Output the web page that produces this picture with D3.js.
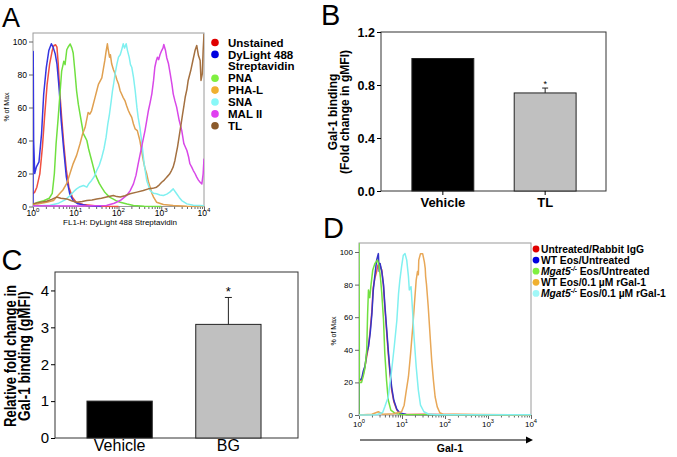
<!DOCTYPE html>
<html lang="en">
<head>
<meta charset="UTF-8" />
<title>Gal-1 binding</title>
<style>
  body { margin: 0; background: #fff; }
  svg text { font-family: 'Liberation Sans', Arial, sans-serif; fill: #000; }
</style>
<script src="https://d3js.org/d3.v7.min.js"></script>
</head>
<body>
<div class="d3Chart"></div>
<script>
// ---------- data, panel A (x = log10 FL1-H, y = % of max) ----------
var unstainedA = [[0,7.7],[0.04,8.7],[0.09,11.7],[0.16,19.8],[0.22,36],[0.27,54],[0.33,74],[0.39,86.5],[0.45,94.5],[0.49,97.6],[0.53,98],[0.56,96.6],[0.59,86.5],[0.62,72],[0.67,54],[0.72,38],[0.78,22],[0.84,11.7],[0.92,5.7],[1.01,2.6],[1.17,1.2],[1.56,0.2],[2,0]]
var dylightA = [[0,0],[0.005,94],[0.015,40],[0.04,20],[0.08,24],[0.14,27],[0.2,44],[0.25,68],[0.31,84],[0.37,94.5],[0.43,98.6],[0.47,96.6],[0.52,92.5],[0.56,86.5],[0.61,72],[0.66,52],[0.72,34],[0.78,17.8],[0.86,7.7],[0.94,3.6],[1.05,1.6],[1.25,0.6],[1.6,0]]
var pnaA = [[0,1],[0.1,2.5],[0.25,3.5],[0.38,5],[0.45,8],[0.5,20],[0.54,38],[0.59,54],[0.63,68],[0.67,82],[0.72,88],[0.75,86],[0.79,95],[0.83,97],[0.87,98.5],[0.91,96],[0.94,93],[0.98,82],[1.02,70],[1.06,62],[1.1,56],[1.14,50],[1.18,44],[1.22,42],[1.26,40],[1.3,35],[1.33,32],[1.37,28],[1.41,24],[1.45,20],[1.49,17.5],[1.55,14],[1.61,11.5],[1.67,9],[1.72,7.5],[1.8,5.5],[1.88,4.5],[1.96,3.3],[2.04,2.6],[2.2,1.5],[2.35,0.6],[2.6,0.2],[3,0]]
var phalA = [[0,1.5],[0.1,1.5],[0.32,2.6],[0.48,3.6],[0.63,8],[0.7,10],[0.79,14],[0.94,26],[1.02,31],[1.1,38],[1.16,44],[1.22,48],[1.29,57],[1.33,56],[1.37,58],[1.41,62],[1.45,66],[1.49,70],[1.53,74],[1.57,76],[1.61,78],[1.65,84],[1.68,88.5],[1.71,94],[1.74,98.6],[1.76,95],[1.79,90.5],[1.81,92],[1.84,86.5],[1.88,83],[1.92,80.4],[1.96,77],[2,74.3],[2.04,70],[2.07,68.3],[2.11,66],[2.15,64.2],[2.19,61],[2.23,58.2],[2.27,56],[2.31,54],[2.35,50],[2.39,47],[2.44,46],[2.5,40],[2.54,34],[2.58,27.9],[2.62,23],[2.66,19.8],[2.7,15],[2.74,11.7],[2.78,8],[2.82,5.7],[2.89,2.6],[3.05,1.2],[3.28,0.6],[3.6,0.2],[4,0]]
var snaA = [[0,0.3],[0.4,0.8],[0.6,2],[0.75,4],[0.87,6.7],[0.95,9],[1.02,10.7],[1.1,12],[1.18,12.7],[1.26,11.7],[1.31,14],[1.37,15.8],[1.43,18],[1.49,21.8],[1.55,25],[1.61,29.9],[1.66,35],[1.71,42],[1.75,50],[1.79,56.2],[1.83,64],[1.86,70.3],[1.89,75],[1.92,80.4],[1.96,86],[2,90.5],[2.04,92],[2.07,94.5],[2.11,98.6],[2.14,96],[2.18,98.6],[2.21,94.5],[2.25,90.5],[2.28,86],[2.31,84.4],[2.35,78.4],[2.39,70.3],[2.43,60.2],[2.46,54],[2.5,48],[2.54,40],[2.6,25.9],[2.66,15.8],[2.74,9.7],[2.82,8],[2.89,7.7],[2.97,7],[3.05,6.7],[3.13,7.5],[3.2,8.7],[3.28,10.7],[3.36,7.7],[3.42,5.5],[3.48,3.6],[3.6,1.6],[3.75,0.8],[3.9,0.6],[4,0.5]]
var mal2A = [[0,0.5],[1,0.3],[1.72,0.6],[1.9,2],[2.04,3.6],[2.19,6.7],[2.27,9.5],[2.35,13.7],[2.41,19],[2.46,25.9],[2.54,36],[2.58,41],[2.62,46],[2.66,52],[2.7,58.2],[2.74,63],[2.78,68.3],[2.82,76.4],[2.85,84.4],[2.88,88],[2.91,90.5],[2.94,89],[2.97,92],[3.01,94.5],[3.04,96],[3.06,98.2],[3.1,94.5],[3.13,90],[3.17,86.5],[3.21,80.4],[3.25,74],[3.28,68.3],[3.32,64],[3.36,60.2],[3.42,52.1],[3.48,46],[3.53,38],[3.6,33.9],[3.64,30],[3.67,25.9],[3.71,24],[3.75,21.8],[3.79,20],[3.83,17.8],[3.87,16],[3.91,14.7],[3.95,13.7],[3.98,19.8],[4,29]]
var tlA = [[0,1.6],[0.15,2.5],[0.32,3.2],[0.45,4.5],[0.55,5.7],[0.65,5],[0.79,4.6],[0.9,3.5],[1.02,2.6],[1.15,3],[1.26,3.6],[1.38,4],[1.49,4.6],[1.6,5],[1.72,5.7],[1.88,6.7],[1.96,6],[2.04,5.7],[2.15,6.5],[2.27,7.7],[2.43,8.7],[2.58,9.7],[2.7,10.7],[2.8,11],[2.89,11.7],[2.95,13],[3.01,14.7],[3.07,16],[3.13,17.8],[3.19,19.5],[3.24,21.8],[3.28,24],[3.32,27.9],[3.35,32],[3.38,36],[3.41,41],[3.44,46],[3.47,51],[3.5,56.2],[3.53,61],[3.56,66.2],[3.6,71],[3.63,76.4],[3.69,82.4],[3.74,88.5],[3.79,94.5],[3.83,97.6],[3.87,91.5],[3.91,88.5],[3.93,76.4],[3.96,80.4],[3.98,94.5],[4,104.6]]
var legendA = [['Unstained'], ['DyLight 488', 'Streptavidin'], ['PNA'], ['PHA-L'], ['SNA'], ['MAL II'], ['TL']]
var dotColorsA = ['#e00000', '#0000e0', '#80f040', '#f0b030', '#88f8f8', '#e040f0', '#8b5a2b']
var lineColorsA = ['#f05040', '#3535e0', '#70e040', '#e0a050', '#80f0f0', '#d848e8', '#a47040']

// ---------- data, panel B ----------
var catsB = ['Vehicle', 'TL']
var valuesB = [1.0, 0.74]
var errB = [0, 0.037]
var ticksB = [0, 0.4, 0.8, 1.2]

// ---------- data, panel C ----------
var catsC = ['Vehicle', 'BG']
var valuesC = [1.0, 3.08]
var errC = [0, 0.73]
var ticksC = [0, 1, 2, 3, 4]

// ---------- data, panel D (x = log10 Gal-1, y = % of max) ----------
var untreatedD = [[0,0],[0.005,21],[0.06,21.5],[0.1,25],[0.14,30],[0.18,36],[0.22,42],[0.26,52],[0.3,64],[0.33,78],[0.37,84],[0.41,88],[0.44,92],[0.48,93],[0.51,90],[0.53,89],[0.57,78.7],[0.6,66.4],[0.64,52],[0.68,37.8],[0.72,25.6],[0.76,15.3],[0.81,8.2],[0.88,3],[0.95,1],[1.1,0.3],[1.5,0.5],[2,0.3],[4,0]]
var wtUntreatedD = [[0,0],[0.005,22],[0.06,22],[0.1,27],[0.14,30],[0.18,38],[0.22,42],[0.26,50],[0.3,62],[0.33,76],[0.37,86],[0.41,95],[0.45,99],[0.47,88],[0.49,93],[0.53,88],[0.57,80],[0.6,68],[0.64,54],[0.68,40],[0.72,27],[0.76,17],[0.81,9],[0.88,3.5],[0.95,1.2],[1.1,0.3],[4,0]]
var mgatUntreatedD = [[0,0],[0,105],[0.01,20],[0.06,20],[0.1,24],[0.14,29],[0.18,40],[0.2,62],[0.22,76.7],[0.25,72],[0.28,80],[0.32,89],[0.37,93],[0.43,95],[0.47,91],[0.5,84],[0.53,74.6],[0.57,58.3],[0.6,37.8],[0.64,21.5],[0.68,9.2],[0.74,3],[0.84,1],[1,0.3],[4,0]]
var wtRgalD = [[0,0],[0.3,0.5],[0.45,2],[0.55,0.5],[0.8,0.8],[0.99,2],[1.05,6],[1.09,13.3],[1.15,23.5],[1.2,37.8],[1.25,54],[1.29,68.5],[1.33,82.8],[1.36,88],[1.38,86],[1.39,95],[1.43,99],[1.48,99],[1.52,94],[1.54,90],[1.55,84.9],[1.57,80],[1.61,66.4],[1.65,50],[1.69,33.7],[1.73,21.5],[1.77,11.2],[1.82,5],[1.88,1.4],[1.96,0.3],[2.2,0.5],[4,0]]
var mgatRgalD = [[0,0],[0.4,0.2],[0.55,1.5],[0.6,5],[0.68,11],[0.76,27.6],[0.82,42],[0.88,58],[0.92,74.6],[0.95,82.8],[0.99,91],[1.03,98],[1.07,99],[1.11,95],[1.15,84.9],[1.17,76.7],[1.21,78.7],[1.24,66.4],[1.28,48],[1.33,29.6],[1.38,15.3],[1.43,6.1],[1.51,2],[1.61,0.6],[1.8,0.2],[4,0.2]]
var dotColorsD = ['#e00000', '#0000e0', '#80f040', '#f0b030', '#a0f8f8']
var lineColorsD = ['#e85850', '#3434c8', '#70e040', '#e8a858', '#80f0f0']

var decades = [0, 1, 2, 3, 4]
var pctTicks = [0, 20, 40, 60, 80, 100]

var svg = d3.select('.d3Chart').append('svg').attr('width', 677).attr('height', 457)

// panel letters
;[['A', 2, 27, 27], ['B', 321, 25, 29], ['C', 1.5, 270, 29], ['D', 323, 238, 29]].forEach(function (p) {
  svg.append('text').attr('x', p[1]).attr('y', p[2]).attr('font-size', p[3]).text(p[0])
})

// log-decade x axis with minor ticks and 10^n labels
function logAxis(g, x, y0, fs, labY) {
  var minor = []
  decades.slice(0, 4).forEach(function (n) {
    d3.range(2, 10).forEach(function (k) { minor.push(n + Math.log10(k)) })
  })
  var ax = g.append('g').attr('transform', 'translate(0,' + y0 + ')')
  ax.call(d3.axisBottom(x).tickValues(decades).tickSize(4).tickFormat(''))
  ax.append('g').call(d3.axisBottom(x).tickValues(minor).tickSize(2.5).tickFormat(''))
  ax.selectAll('path').remove()
  ax.selectAll('line').attr('stroke', '#666')
  var lab = ax.selectAll('text.dec').data(decades).enter().append('text')
    .attr('class', 'dec').attr('x', (d) => x(d)).attr('y', labY)
    .attr('text-anchor', 'middle').attr('font-size', fs).attr('fill', '#222')
  lab.append('tspan').text('10')
  lab.append('tspan').attr('dy', -fs * 0.45).attr('font-size', fs * 0.72).text((d) => d)
}

function histPanel(x0, x1, y0, y1, top, series, colors, tickFs, labY, clipId) {
  var x = d3.scaleLinear().domain([0, 4]).range([x0, x1])
  var y = d3.scaleLinear().domain([0, 100]).range([y0, y1])
  var g = svg.append('g')
  g.append('clipPath').attr('id', clipId).append('rect')
    .attr('x', x0).attr('y', top).attr('width', x1 - x0).attr('height', y0 - top + 1)
  g.append('rect').attr('x', x0).attr('y', top).attr('width', x1 - x0).attr('height', y0 - top)
    .attr('fill', 'none').attr('stroke', '#9a9a9a').attr('stroke-width', 1)
  var ya = g.append('g').attr('transform', 'translate(' + x0 + ',0)')
    .call(d3.axisLeft(y).tickValues(pctTicks).tickSize(4).tickPadding(2))
  ya.select('path').remove()
  ya.selectAll('line').attr('stroke', '#666')
  ya.selectAll('text').attr('font-size', tickFs).attr('fill', '#222').attr('font-family', null)
  logAxis(g, x, y0, tickFs, labY)
  var line = d3.line().x((d) => x(d[0])).y((d) => y(d[1]))
  g.append('g').attr('clip-path', 'url(#' + clipId + ')')
    .selectAll('path').data(series).enter().append('path')
    .attr('d', line).attr('fill', 'none')
    .attr('stroke', (d, i) => colors[i]).attr('stroke-width', 1.5).attr('stroke-linejoin', 'round')
  return { x: x, y: y, g: g }
}

// ---------- A ----------
var A = histPanel(33, 204, 206.5, 41.5, 33, [unstainedA, dylightA, pnaA, phalA, snaA, mal2A, tlA], lineColorsA, 8.5, 9.5, 'clipA')
A.g.append('text').attr('transform', 'translate(6.5,107) rotate(-90)').attr('text-anchor', 'middle')
  .attr('dy', '0.35em').attr('font-size', 7).text('% of Max')
A.g.append('text').attr('x', 120).attr('y', 224.5).attr('text-anchor', 'middle').attr('font-size', 8)
  .text('FL1-H: DyLight 488 Streptavidin')

var rowA = 0
legendA.forEach(function (lines, i) {
  var yy = 42.5 + rowA * 11.9
  svg.append('circle').attr('cx', 215).attr('cy', yy).attr('r', 3.8).attr('fill', dotColorsA[i])
  lines.forEach(function (t, j) {
    svg.append('text').attr('x', 228).attr('y', yy + j * 11.9).attr('dy', '0.36em')
      .attr('font-size', 11.5).attr('font-weight', 'bold').text(t)
  })
  rowA += lines.length
})

// ---------- bar panels ----------
function barPanel(o) {
  var y = d3.scaleLinear().domain(o.domain).range([o.bottom, o.top])
  var x = d3.scaleBand().domain(o.cats).range([o.left, o.bandRight]).paddingInner(o.pi).paddingOuter(o.po)
  var g = svg.append('g')
  g.append('rect').attr('x', o.left).attr('y', o.top).attr('width', o.right - o.left).attr('height', o.bottom - o.top)
    .attr('fill', 'none').attr('stroke', '#333').attr('stroke-width', 1)
  g.selectAll('rect.bar').data(o.values).enter().append('rect').attr('class', 'bar')
    .attr('x', (d, i) => x(o.cats[i])).attr('width', x.bandwidth())
    .attr('y', (d) => y(d)).attr('height', (d) => o.bottom - y(d))
    .attr('fill', (d, i) => (i === 0 ? '#000' : '#c0c0c0')).attr('stroke', '#222').attr('stroke-width', 1)
  o.errs.forEach(function (e, i) {
    if (!e) return
    var cx = x(o.cats[i]) + x.bandwidth() / 2
    g.append('line').attr('x1', cx).attr('x2', cx).attr('y1', y(o.values[i])).attr('y2', y(o.values[i] + e)).attr('stroke', '#222')
    g.append('line').attr('x1', cx - o.cap).attr('x2', cx + o.cap).attr('y1', y(o.values[i] + e)).attr('y2', y(o.values[i] + e)).attr('stroke', '#222')
    g.append('text').attr('x', cx).attr('y', y(o.values[i] + e) - o.starGap).attr('text-anchor', 'middle')
      .attr('font-size', o.starFs).attr('fill', '#333').text('*')
  })
  var ya = g.append('g').attr('transform', 'translate(' + o.left + ',0)')
    .call(d3.axisLeft(y).tickValues(o.ticks).tickSize(4).tickPadding(2).tickFormat(o.fmt))
  ya.select('path').remove()
  ya.selectAll('text').attr('font-size', o.tickFs).attr('font-weight', o.weight).attr('font-family', null).attr('fill', '#000')
  var xa = g.append('g').attr('transform', 'translate(0,' + o.bottom + ')')
    .call(d3.axisBottom(x).tickSize(o.xTick).tickPadding(o.xPad))
  xa.select('path').remove()
  xa.selectAll('text').attr('font-size', o.xFs).attr('font-weight', o.weight).attr('font-family', null).attr('fill', '#000')
  o.title.forEach(function (t, j) {
    var tt = g.append('text').attr('transform', 'translate(' + o.titleX[j] + ',' + o.titleY + ') rotate(-90)')
      .attr('text-anchor', 'middle').attr('dy', '0.35em').attr('font-size', o.titleFs)
      .attr('font-weight', 'bold').text(t)
    if (o.titleLen) tt.attr('textLength', o.titleLen[j]).attr('lengthAdjust', 'spacingAndGlyphs')
  })
}

barPanel({
  cats: catsB, values: valuesB, errs: errB, ticks: ticksB, domain: [0, 1.2], fmt: d3.format('.1f'),
  left: 381, right: 606, bandRight: 607, top: 32, bottom: 191, pi: 0.395, po: 0.302,
  cap: 3, starFs: 9, starGap: 1, tickFs: 12.5, xFs: 13, xTick: 4, xPad: 3, weight: 'bold',
  title: ['Gal-1 binding', '(Fold change in gMFI)'], titleX: [333, 345], titleY: 112, titleFs: 12
})

barPanel({
  cats: catsC, values: valuesC, errs: errC, ticks: ticksC, domain: [0, 4.5], fmt: d3.format('d'),
  left: 55, right: 298, bandRight: 293, top: 272, bottom: 438, pi: 0.4, po: 0.294,
  cap: 3.5, starFs: 13, starGap: 1, tickFs: 15, xFs: 16, xTick: 0, xPad: 2, weight: 'normal',
  title: ['Relative fold change in', 'Gal-1 binding (gMFI)'], titleX: [10, 24], titleY: 356, titleFs: 16,
  titleLen: [142, 130]
})

// ---------- D ----------
var D = histPanel(359, 531, 415, 252, 243, [untreatedD, wtUntreatedD, mgatUntreatedD, wtRgalD, mgatRgalD], lineColorsD, 8, 12, 'clipD')
D.g.append('text').attr('transform', 'translate(333.5,331) rotate(-90)').attr('text-anchor', 'middle')
  .attr('dy', '0.35em').attr('font-size', 7).text('% of Max')
D.g.append('line').attr('x1', 360).attr('x2', 526).attr('y1', 440).attr('y2', 440).attr('stroke', '#000').attr('stroke-width', 1)
D.g.append('path').attr('d', 'M526,436.5L533,440L526,443.5Z').attr('fill', '#000')
D.g.append('text').attr('x', 450).attr('y', 451.5).attr('text-anchor', 'middle')
  .attr('font-size', 10.5).attr('font-weight', 'bold').text('Gal-1')

var legendD = [
  [['Untreated/Rabbit IgG', '']],
  [['WT Eos/Untreated', '']],
  [['Mgat5', 'i'], ['-/-', 's'], [' Eos/Untreated', '']],
  [['WT Eos/0.1 \u00b5M rGal-1', '']],
  [['Mgat5', 'i'], ['-/-', 's'], [' Eos/0.1 \u00b5M rGal-1', '']]
]
legendD.forEach(function (parts, i) {
  var yy = 249 + i * 11.1
  svg.append('circle').attr('cx', 536).attr('cy', yy).attr('r', 3.4).attr('fill', dotColorsD[i])
  var t = svg.append('text').attr('x', 541).attr('y', yy).attr('dy', '0.36em')
    .attr('font-size', 10.3).attr('font-weight', 'bold')
  parts.forEach(function (p) {
    var s = t.append('tspan').text(p[0])
    if (p[1] === 'i') s.attr('font-style', 'italic')
    if (p[1] === 's') s.attr('font-size', 6.5).attr('font-style', 'italic').attr('baseline-shift', '55%')
  })
})
</script>
</body>
</html>
